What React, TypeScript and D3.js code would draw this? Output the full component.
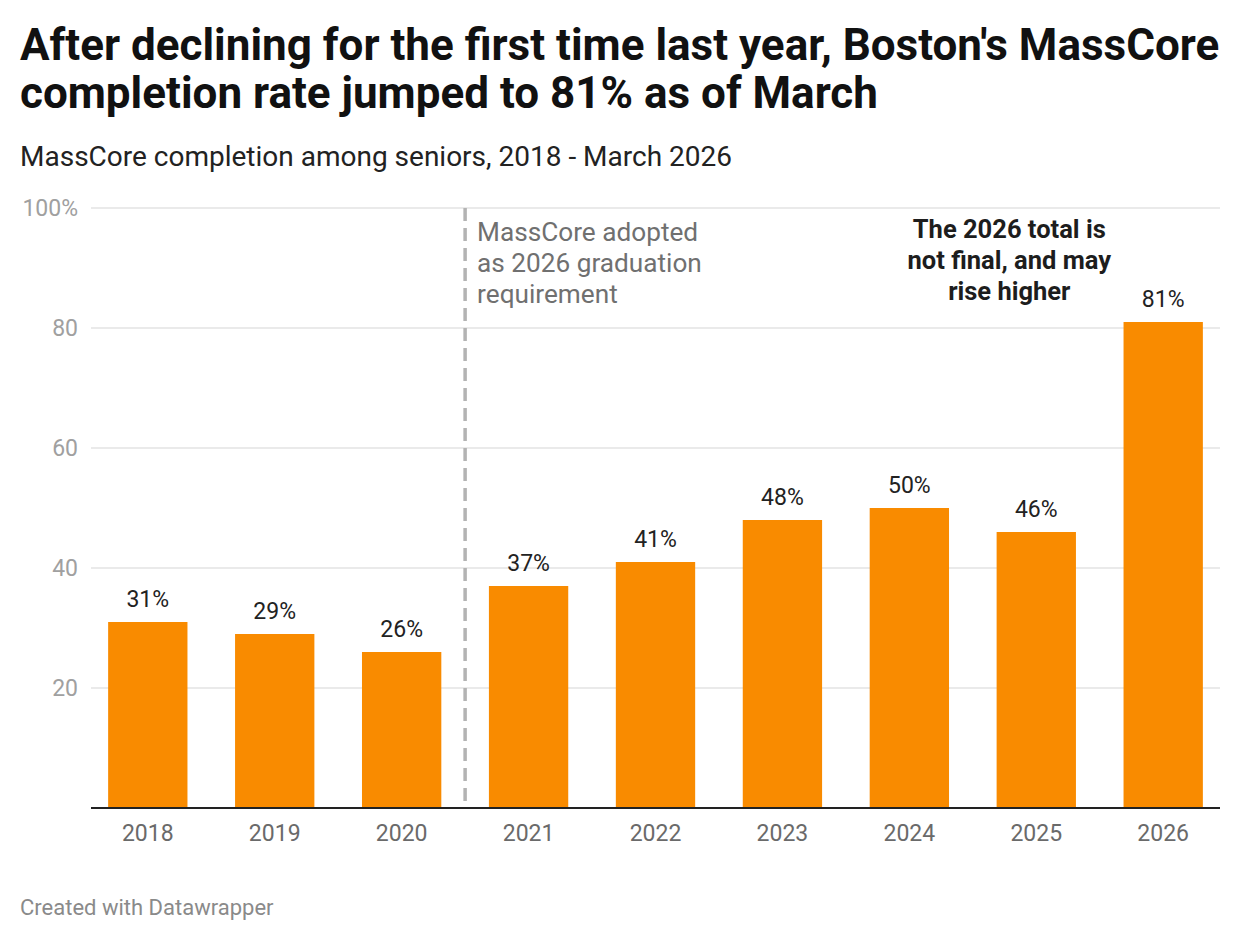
import React from "react"
import * as d3 from "d3"

const years = ["2018", "2019", "2020", "2021", "2022", "2023", "2024", "2025", "2026"]
const completion = [31, 29, 26, 37, 41, 48, 50, 46, 81]
const yTicks = [0, 20, 40, 60, 80, 100]

const width = 1240
const height = 940
const plot = { left: 91, right: 1220, top: 208, bottom: 808 }
const font = "Roboto, 'Noto Sans', sans-serif"

const App = () => {
  const x = d3
    .scaleBand()
    .domain(years)
    .range([plot.left, plot.right])
    .paddingInner(0.375)
    .paddingOuter(0.135)

  const y = d3.scaleLinear().domain([0, 100]).range([plot.bottom, plot.top])

  // dashed line between 2020 and 2021
  const splitX = ((x("2020") ?? 0) + x.bandwidth() + (x("2021") ?? 0)) / 2

  const noteX = (x("2025") ?? 0) + x.bandwidth() / 2 - 27

  return (
    <svg
      width={width}
      height={height}
      style={{ position: "absolute", top: 0, left: 0, background: "white" }}
      fontFamily={font}
    >
      <text x={20} y={60} fontSize={44} fontWeight={700} fill="#111">
        After declining for the first time last year, Boston's MassCore
      </text>
      <text x={20} y={108} fontSize={44} fontWeight={700} fill="#111">
        completion rate jumped to 81% as of March
      </text>
      <text x={20} y={166} fontSize={28} fill="#222">
        MassCore completion among seniors, 2018 - March 2026
      </text>

      {yTicks.map(t => (
        <g key={t}>
          {t > 0 && (
            <line x1={plot.left} x2={plot.right} y1={y(t)} y2={y(t)} stroke="#e3e3e3" strokeWidth={1.5} />
          )}
          {t > 0 && (
            <text x={78} y={y(t)} dy="0.35em" textAnchor="end" fontSize={23} fill="#a0a0a0">
              {t === 100 ? "100%" : t}
            </text>
          )}
        </g>
      ))}

      {years.map((yr, i) => (
        <g key={yr}>
          <rect
            x={x(yr)}
            y={y(completion[i])}
            width={x.bandwidth()}
            height={y(0) - y(completion[i])}
            fill="#f98b00"
          />
          <text
            x={(x(yr) ?? 0) + x.bandwidth() / 2}
            y={y(completion[i]) - 23}
            dy="0.35em"
            textAnchor="middle"
            fontSize={23}
            fill="#222"
          >
            {completion[i]}%
          </text>
          <text
            x={(x(yr) ?? 0) + x.bandwidth() / 2}
            y={833}
            dy="0.35em"
            textAnchor="middle"
            fontSize={23}
            fill="#6a6a6a"
          >
            {yr}
          </text>
        </g>
      ))}

      <line
        x1={splitX}
        x2={splitX}
        y1={plot.top}
        y2={plot.bottom}
        stroke="#b3b3b3"
        strokeWidth={3.5}
        strokeDasharray="13 7"
      />

      <line x1={plot.left} x2={plot.right} y1={plot.bottom} y2={plot.bottom} stroke="#222" strokeWidth={2} />

      {["MassCore adopted", "as 2026 graduation", "requirement"].map((s, i) => (
        <text key={s} x={splitX + 12} y={232 + i * 31} dy="0.35em" fontSize={26.2} fill="#707070">
          {s}
        </text>
      ))}

      {["The 2026 total is", "not final, and may", "rise higher"].map((s, i) => (
        <text
          key={s}
          x={noteX}
          y={229 + i * 31}
          dy="0.35em"
          textAnchor="middle"
          fontSize={25.5}
          fontWeight={700}
          fill="#1d1d1d"
        >
          {s}
        </text>
      ))}

      <text x={20} y={907} dy="0.35em" fontSize={22} fill="#8a8a8a">
        Created with Datawrapper
      </text>
    </svg>
  )
}

export default App
